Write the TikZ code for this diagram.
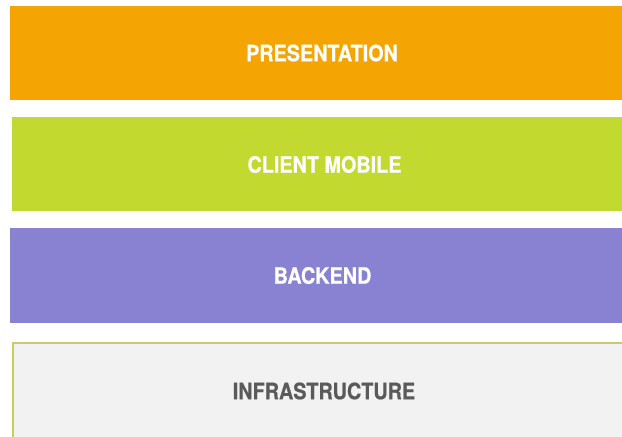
\documentclass[tikz,border=0pt]{standalone}
\usepackage{fontspec}
\newfontfamily\bandfont[FakeStretch=0.88,FakeBold=0.6]{TeX Gyre Heros}
\definecolor{cpres}{HTML}{F4A503}
\definecolor{cclient}{HTML}{C2D92F}
\definecolor{cback}{HTML}{8982D2}
\definecolor{cinfra}{HTML}{F2F2F2}
\definecolor{cinfraline}{HTML}{C8CF5E}
\definecolor{cinfratext}{HTML}{5A5A5A}
\tikzset{
  band/.style={draw=none, inner sep=0pt, outer sep=0pt},
  bandtext/.style={font=\bandfont\bfseries\fontsize{22.5}{26}\selectfont, inner sep=0pt, anchor=center},
}
\begin{document}
\begin{tikzpicture}[x=1pt,y=-1pt]
\useasboundingbox (0,0) rectangle (622,437);
\clip (0,0) rectangle (622,437);
\fill[cpres] (10,6) rectangle (640,100);
\fill[cclient] (12,117) rectangle (640,211);
\fill[cback] (10,228) rectangle (640,323);
\draw[fill=cinfra, draw=cinfraline, line width=2.2pt] (13,343) rectangle (650,460);
\node[bandtext, text=white] (pres) at (322,53) {PRESENTATION};
\node[bandtext, text=white] (client) at (324.5,164.5) {CLIENT MOBILE};
\node[bandtext, text=white] (back) at (322.5,275.5) {BACKEND};
\node[bandtext, text=cinfratext] (infra) at (324,391) {INFRASTRUCTURE};
\end{tikzpicture}
\end{document}
